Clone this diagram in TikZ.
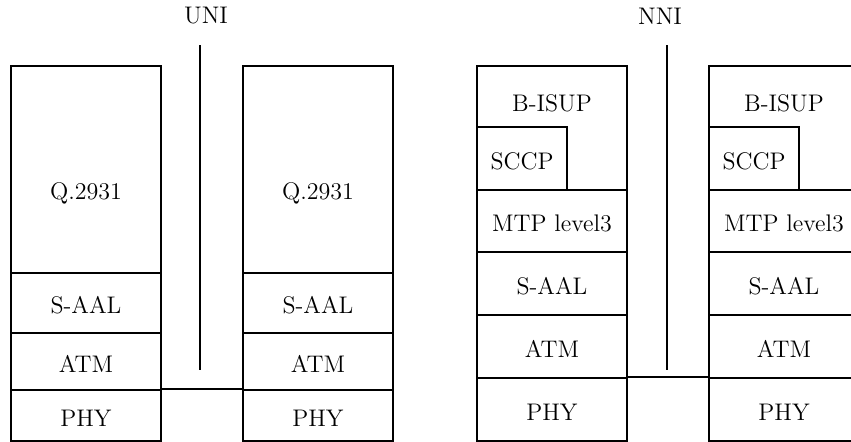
\documentclass[tikz,border=0pt]{standalone}
\usepackage{tikz}
\usetikzlibrary{positioning}

\begin{document}
\begin{tikzpicture}[x=0.5pt, y=-0.5pt, font=\fontsize{12}{14}\selectfont,
    layer/.style={draw, rectangle, inner sep=0pt, line width=0.8pt,
      minimum width=75pt, text height=10.5pt, text depth=0pt},
    divider/.style={line width=0.8pt}]
    \useasboundingbox (0,0) rectangle (851,441);
    % UNI stacks
    \foreach \side/\cx in {A/86,B/318} {
      \node[layer, minimum height=103.5pt] (uq\side) at (\cx,169.5) {};
      \node (uqt\side) at (\cx,193) {Q.2931};
      \node[layer, minimum height=30pt] (usaal\side) at (\cx,303) {S-AAL};
      \node[layer, minimum height=28.5pt] (uatm\side) at (\cx,361.5) {ATM};
      \node[layer, minimum height=25.5pt] (uphy\side) at (\cx,415.5) {PHY};
    }
    % NNI stacks
    \foreach \side/\cx in {A/552,B/784} {
      \node[layer, minimum height=62pt] (nisup\side) at (\cx,128) {};
      \node (nisupt\side) at (\cx,103) {B-ISUP};
      \node[layer, minimum width=45pt, minimum height=31.5pt, anchor=south west]
        (nsccp\side) at (nisup\side.south west) {SCCP};
      \node[layer, minimum height=31pt] (nmtp\side) at (\cx,221) {MTP level3};
      \node[layer, minimum height=31.5pt] (nsaal\side) at (\cx,283.5) {S-AAL};
      \node[layer, minimum height=31.5pt] (natm\side) at (\cx,346.5) {ATM};
      \node[layer, minimum height=31.5pt] (nphy\side) at (\cx,409.5) {PHY};
    }
    % Physical links
    \draw[divider] (uphyA.north east) -- (uphyB.north west);
    \draw[divider] (nphyA.north east) -- (nphyB.north west);
    % Interface dividers
    \coordinate (uniTop) at (200,45);
    \coordinate (uniBot) at (200,370);
    \coordinate (nniTop) at (667,45);
    \coordinate (nniBot) at (667,370);
    \draw[divider] (uniTop) -- (uniBot);
    \draw[divider] (nniTop) -- (nniBot);
    \node (uni) at (206,16) {UNI};
    \node (nni) at (660,16) {NNI};
  \end{tikzpicture}
\end{document}
